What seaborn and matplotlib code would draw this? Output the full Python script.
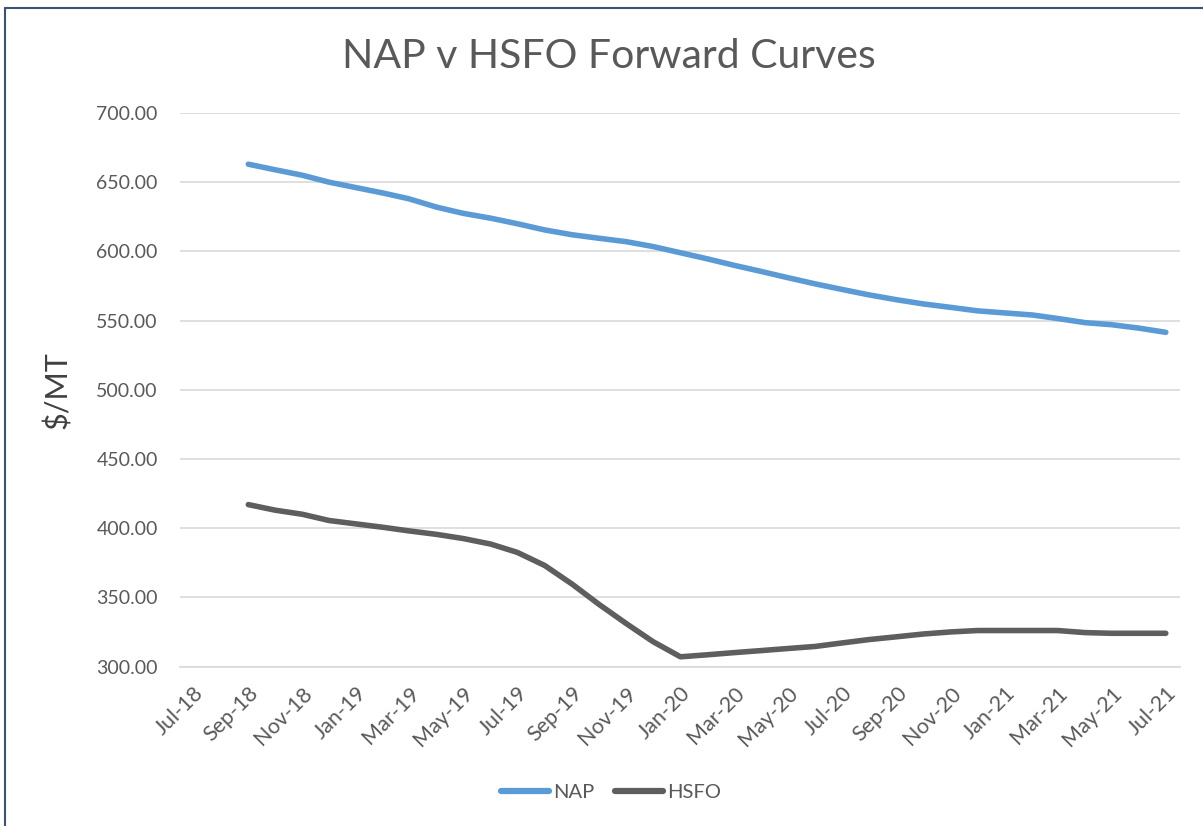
import pandas as pd
import matplotlib
matplotlib.use("Agg")
import matplotlib.pyplot as plt
from matplotlib.lines import Line2D
import seaborn as sns

# monthly forward curve, Sep-18 .. Jul-21
first_month = "2018-09-01"
nap = [663, 659, 655, 650, 646, 642, 638, 632, 627.5, 624, 620, 615.5, 612,
       609.5, 607, 603.5, 599, 594.5, 590, 585.5, 581, 576.5, 572.5, 568.5,
       565, 562, 559.5, 557, 555.5, 554, 551.5, 548.5, 547, 544.5, 541.5]
hsfo = [417, 413, 410, 405.5, 403, 400.5, 398, 395.5, 392.5, 388.5, 382.5,
        373, 359.5, 345, 331, 318, 307, 308.5, 310, 311.5, 313, 314.5, 317,
        319.5, 321.5, 323.5, 325, 326, 326, 326, 326, 324.5, 324, 324, 324]
series_names = ["NAP", "HSFO"]
series_colors = ["#5B9BD5", "#5E5E5E"]

months = pd.date_range(first_month, periods=len(nap), freq="MS")
df = pd.DataFrame({
    "date": list(months + pd.Timedelta(days=15)) * 2,
    "value": nap + hsfo,
    "series": ["NAP"] * len(nap) + ["HSFO"] * len(hsfo),
})

sns.set_style("white")
plt.rcParams["font.family"] = ["Lato", "DejaVu Sans"]

fig = plt.figure(figsize=(12.03, 8.26), dpi=100)
ax = fig.add_axes([180 / 1203, 1 - 666.5 / 826, 1000 / 1203, 553.5 / 826])

sns.lineplot(data=df, x="date", y="value", hue="series", hue_order=series_names,
             palette=series_colors, linewidth=4, ax=ax, legend=False,
             solid_joinstyle="round", solid_capstyle="round")

ax.set_xlim(pd.Timestamp("2018-07-01"), pd.Timestamp("2021-08-01"))
ax.set_ylim(300, 700)
ax.set_yticks(range(300, 701, 50))
ax.yaxis.set_major_formatter(matplotlib.ticker.FormatStrFormatter("%.2f"))
ax.grid(axis="y", color="#D9D9D9", linewidth=1.2)
ax.set_axisbelow(True)
for s in ["top", "right", "left"]:
    ax.spines[s].set_visible(False)
ax.spines["bottom"].set_color("#D9D9D9")
ax.spines["bottom"].set_linewidth(1.2)

tick_starts = pd.date_range("2018-07-01", "2021-07-01", freq="2MS")
ax.set_xticks(tick_starts)
ax.set_xticklabels([])
ax.tick_params(axis="x", which="major", length=6, width=1.2, color="#D9D9D9")
ax.set_xticks(tick_starts + pd.Timedelta(days=15), minor=True)
ax.set_xticklabels([d.strftime("%b-%y") for d in tick_starts], minor=True,
                   rotation=45, ha="right", rotation_mode="anchor",
                   fontsize=15.5, color="#595959")
ax.tick_params(axis="x", which="minor", length=0, pad=12)
ax.tick_params(axis="y", length=0, labelsize=14, labelcolor="#595959", pad=16)

ax.set_xlabel("")
ax.set_ylabel("$/MT", fontsize=22, color="#404040")
ax.yaxis.set_label_coords(-108 / 1000, 0.5)

fig.text(609 / 1203, 1 - 57 / 826, "NAP v HSFO Forward Curves",
         ha="center", va="center", fontsize=29.5, color="#595959")

handles = [Line2D([], [], color=c, linewidth=4.5) for c in series_colors]
fig.legend(handles, series_names, loc="center", ncol=2,
           bbox_to_anchor=(611 / 1203, 1 - 792 / 826), frameon=False,
           fontsize=14.5, labelcolor="#595959", handlelength=2.4,
           handletextpad=0.2, columnspacing=1.0)

# chart frame edges visible in the screenshot
fig.add_artist(Line2D([5 / 1203, 5 / 1203], [0, 1 - 8 / 826],
                      transform=fig.transFigure, color="#3B5275", linewidth=1.5))
fig.add_artist(Line2D([5 / 1203, 1], [1 - 8 / 826, 1 - 8 / 826],
                      transform=fig.transFigure, color="#3B5275", linewidth=1.5))

fig.savefig("out.png", dpi=100)
